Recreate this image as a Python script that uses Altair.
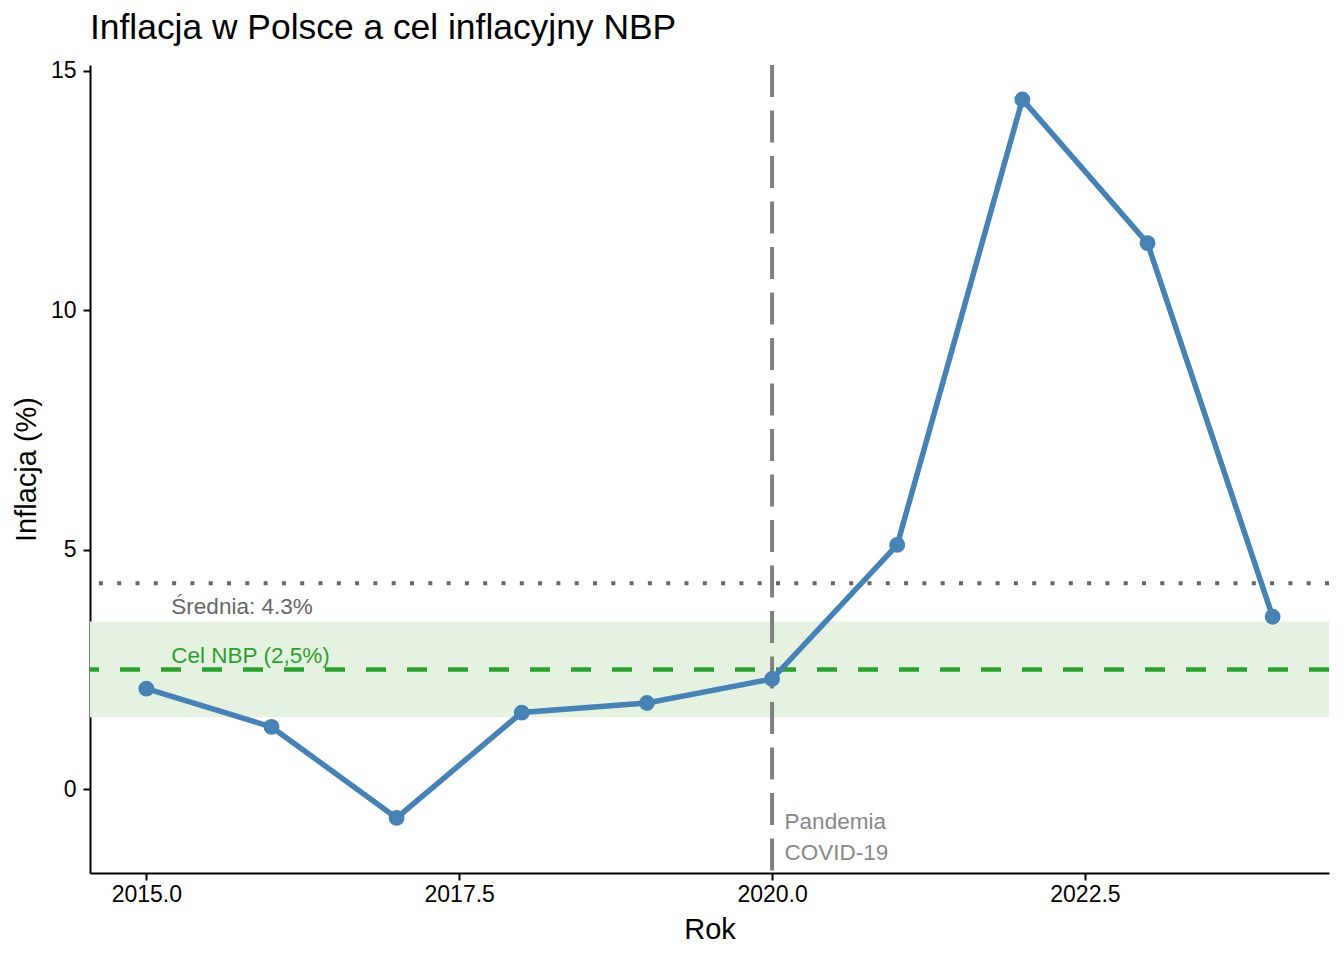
import altair as alt
import pandas as pd

years = [2015, 2016, 2017, 2018, 2019, 2020, 2021, 2022, 2023, 2024]
inflation = [2.1, 1.3, -0.6, 1.6, 1.8, 2.3, 5.1, 14.4, 11.4, 3.6]

target = 2.5
band_low = 1.5
band_high = 3.5
mean_value = 4.3
covid_year = 2020

labels_text = ["Średnia: 4.3%", "Cel NBP (2,5%)", "Pandemia", "COVID-19"]
labels_x = [2015.2, 2015.2, 2020.1, 2020.1]
labels_y = [3.8, 2.78, -0.69, -1.34]
labels_color = ["#666666", "#2ca02c", "#888888", "#888888"]

df = pd.DataFrame({"Rok": years, "Inflacja": inflation})
labels_df = pd.DataFrame({"t": labels_text, "x": labels_x, "y": labels_y, "c": labels_color})

W, H = 1239, 808
FONT = "Liberation Sans"

xscale = alt.Scale(domain=[2014.55, 2024.45], nice=False, zero=False)
yscale = alt.Scale(domain=[-1.75, 15.12], nice=False, zero=False)

xaxis = alt.Axis(title="Rok", values=[2015, 2017.5, 2020, 2022.5], format=".1f",
                 grid=False, domainColor="black", domainWidth=2, tickColor="black",
                 tickWidth=2, tickSize=7, labelFontSize=23, labelColor="black",
                 labelFont=FONT, titleFont=FONT, titleFontSize=29, titleFontWeight="normal",
                 titleColor="black", labelPadding=3, titlePadding=9)
yaxis = alt.Axis(title="Inflacja (%)", values=[0, 5, 10, 15], format="d",
                 grid=False, domainColor="black", domainWidth=2, tickColor="black",
                 tickWidth=2, tickSize=7, labelFontSize=23, labelColor="black",
                 labelFont=FONT, titleFont=FONT, titleFontSize=29, titleFontWeight="normal",
                 titleColor="black", labelPadding=7, titlePadding=9)

band = alt.Chart(pd.DataFrame({"lo": [band_low], "hi": [band_high]})).mark_rect(
    color="#e5f2e2").encode(
    y=alt.Y("lo:Q", scale=yscale, axis=yaxis), y2="hi:Q",
    x=alt.value(0), x2=alt.value(W))

target_rule = alt.Chart(pd.DataFrame({"v": [target]})).mark_rule(
    color="#2ca02c", strokeWidth=4.5, strokeDash=[20, 21]).encode(
    y=alt.Y("v:Q", scale=yscale))

mean_rule = alt.Chart(pd.DataFrame({"v": [mean_value]})).mark_rule(
    color="#666666", strokeWidth=4, strokeDash=[4, 14.3]).encode(
    y=alt.Y("v:Q", scale=yscale))

covid_rule = alt.Chart(pd.DataFrame({"v": [covid_year]})).mark_rule(
    color="#808080", strokeWidth=4, strokeDash=[32, 13.5]).encode(
    x=alt.X("v:Q", scale=xscale, axis=xaxis))

line = alt.Chart(df).mark_line(color="#4682b4", strokeWidth=5.5).encode(
    x=alt.X("Rok:Q", scale=xscale, axis=xaxis),
    y=alt.Y("Inflacja:Q", scale=yscale, axis=yaxis))

points = alt.Chart(df).mark_circle(color="#4682b4", size=250, opacity=1).encode(
    x=alt.X("Rok:Q", scale=xscale),
    y=alt.Y("Inflacja:Q", scale=yscale))

texts = alt.Chart(labels_df).mark_text(align="left", baseline="middle", fontSize=22.5,
                                       font=FONT).encode(
    x=alt.X("x:Q", scale=xscale),
    y=alt.Y("y:Q", scale=yscale),
    text="t:N",
    color=alt.Color("c:N", scale=None))

chart = alt.layer(band, mean_rule, target_rule, covid_rule, line, points, texts).properties(
    width=W, height=H,
    title=alt.TitleParams("Inflacja w Polsce a cel inflacyjny NBP", anchor="start",
                          frame="group", fontSize=35.4, font=FONT, fontWeight="normal",
                          color="black", offset=13),
    autosize=alt.AutoSizeParams(type="none"),
    padding={"left": 82, "top": 57, "right": 7, "bottom": 79},
).configure_view(strokeWidth=0, stroke="transparent")

chart.save("out.html", embed_options={"renderer": "svg", "actions": False})
